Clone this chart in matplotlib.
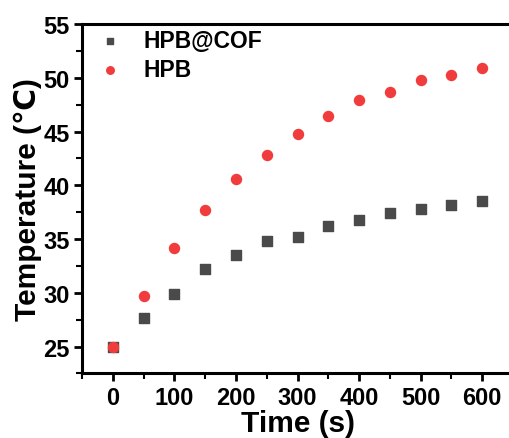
"""temperature vs time for HPB@COF and HPB"""

import matplotlib.pyplot as plt
from matplotlib.ticker import MultipleLocator

plt.rcParams["font.family"] = ["Liberation Sans", "DejaVu Sans"]
plt.rcParams["font.weight"] = "bold"

time_s = [0, 50, 100, 150, 200, 250, 300, 350, 400, 450, 500, 550, 600]
hpb_cof = [25.0, 27.7, 29.9, 32.2, 33.5, 34.8, 35.2, 36.2, 36.8, 37.4, 37.8, 38.2, 38.5]
hpb = [25.0, 29.7, 34.2, 37.7, 40.6, 42.8, 44.8, 46.4, 47.9, 48.7, 49.8, 50.3, 50.9]


fig = plt.figure(figsize=(5.10, 4.39), dpi=100)
ax = fig.add_axes([0.161, 0.147, 0.845, 0.796])

ax.scatter(time_s, hpb_cof, marker="s", s=42, color="#4a4a4a", label="HPB@COF", zorder=3)
ax.scatter(time_s, hpb, marker="o", s=52, color="#f03c3c", label="HPB", zorder=4)

ax.set_xlim(-50, 650)
ax.set_ylim(22.5, 55)
ax.xaxis.set_major_locator(MultipleLocator(100))
ax.xaxis.set_minor_locator(MultipleLocator(50))
ax.yaxis.set_major_locator(MultipleLocator(5))
ax.yaxis.set_minor_locator(MultipleLocator(2.5))

for side in ["left", "bottom", "top"]:
    ax.spines[side].set_linewidth(2.2)
ax.spines["right"].set_visible(False)

ax.tick_params(which="major", direction="out", length=6, width=2, labelsize=17, pad=3)
ax.tick_params(which="minor", direction="out", length=4, width=1.5)
ax.tick_params(top=False, right=False, which="both")
for lbl in ax.get_xticklabels() + ax.get_yticklabels():
    lbl.set_fontweight("bold")

ax.set_xlabel("Time (s)", fontsize=21.5, fontweight="bold", labelpad=0)
ax.set_ylabel("Temperature (℃)", fontsize=21.5, fontweight="bold", labelpad=1)

leg = ax.legend(loc="upper left", frameon=False, fontsize=16.5, handletextpad=0.5,
                borderaxespad=0.0, borderpad=0.2, labelspacing=0.3, markerscale=0.75)
for t in leg.get_texts():
    t.set_fontweight("bold")

fig.savefig("out.png", dpi=100)
